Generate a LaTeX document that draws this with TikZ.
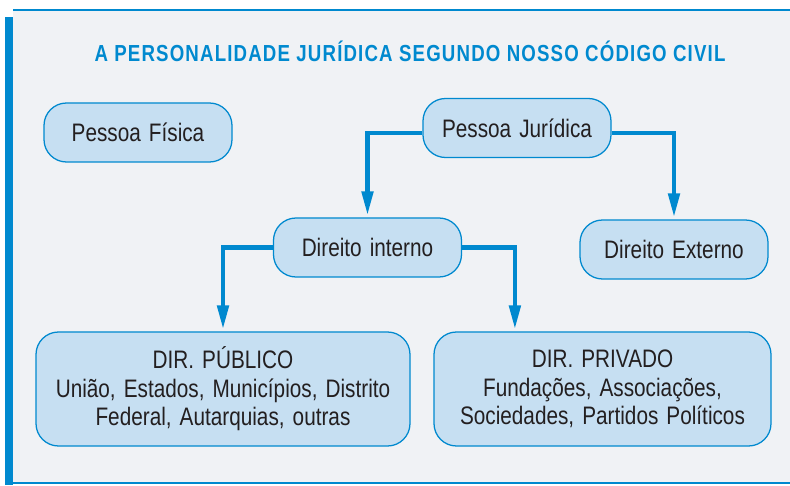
\documentclass[tikz,border=0pt]{standalone}
\usepackage{fontspec}
\setmainfont{Liberation Sans}[FakeStretch=0.82,WordSpace=1.4]
\newfontfamily\titlefont{Liberation Sans}[FakeStretch=0.805,LetterSpace=5]
\usetikzlibrary{calc}
\usetikzlibrary{arrows.meta}
\usetikzlibrary{positioning}
\definecolor{azul}{RGB}{0, 137, 207}
\definecolor{celeste}{RGB}{198, 223, 242}
\definecolor{nevoa}{RGB}{240, 242, 245}
\definecolor{grafite}{RGB}{35, 31, 32}

\begin{document}
\begin{tikzpicture}[
        caixa/.style={draw=azul, fill=celeste, line width=0.9pt, rounded corners=16pt,
                      text=grafite, font=\fontsize{18}{20.3}\selectfont, align=center, inner sep=0pt},
        curta/.style={caixa, minimum width=4.70cm, minimum height=1.475cm},
        longa/.style={caixa, minimum height=2.85cm},
        seta/.style={azul, line width=3pt, shorten >=1.5pt, -{Triangle[length=17pt,width=8pt]}}]
            \useasboundingbox (0.00, 0.00) rectangle (19.75, 12.125);
            \fill[white]                (0.000,  0.000) rectangle (19.75, 12.125);
            \fill[nevoa]                (0.325,  0.050) rectangle (19.75, 11.875);
            \draw[azul, line width=1pt] (0.325, 11.875) -- (19.75, 11.875);
            \draw[azul, line width=1pt] (0.325,  0.050) -- (19.75,  0.050);
            \fill[azul]                 (0.125,  0.000) rectangle (0.325, 11.71);

            \node[text=azul, font=\titlefont\bfseries\fontsize{16.5}{18}\selectfont] (titulo) at (10.25, 10.85)
                 {A PERSONALIDADE JURÍDICA SEGUNDO NOSSO CÓDIGO CIVIL};

            \node[curta] (fisica)   at ( 3.450, 8.8125) {Pessoa Física};
            \node[curta] (juridica) at (12.925, 8.925)  {Pessoa Jurídica};
            \node[curta] (interno)  at ( 9.1875, 5.9375) {Direito interno};
            \node[curta] (externo)  at (16.850, 5.8875) {Direito Externo};
            \node[longa, minimum width=9.35cm]  (publico)  at ( 5.575, 2.400)
                 {DIR. PÚBLICO\\União, Estados, Municípios, Distrito\\Federal, Autarquias, outras};
            \node[longa, minimum width=8.425cm] (privado)  at (15.0625, 2.400)
                 {DIR. PRIVADO\\Fundações, Associações,\\Sociedades, Partidos Políticos};

            \draw[seta] ([yshift=-0.12cm]juridica.west) -| (interno.north);
            \draw[seta] ([yshift=-0.12cm]juridica.east) -| (externo.north);
            \draw[seta] (interno.west) -| (publico.north);
            \draw[seta] (interno.east) -| ([xshift=-2.19cm]privado.north);
        \end{tikzpicture}
\end{document}
